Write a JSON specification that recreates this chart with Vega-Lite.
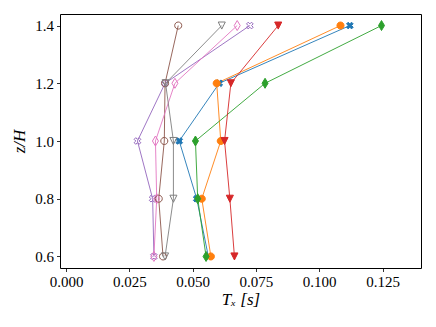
{
  "$schema": "https://vega.github.io/schema/vega-lite/v6.json",
  "autosize": "none",
  "padding": {"left": 60, "top": 14, "right": 15, "bottom": 59},
  "width": 361,
  "height": 254,
  "background": "white",
  "config": {
    "view": {"stroke": "black", "strokeWidth": 1},
    "axis": {
      "grid": false,
      "domain": false,
      "tickColor": "black",
      "tickSize": 3.5,
      "tickWidth": 0.8,
      "labelFont": "Liberation Serif",
      "labelFontSize": 15,
      "labelColor": "black",
      "titleFont": "Liberation Serif",
      "titleFontSize": 17,
      "titleFontWeight": "normal",
      "titleColor": "black",
      "labelPadding": 3
    }
  },
  "data": {
    "values": [
      {"series": "A", "z": 0.6, "T": 0.0562},
      {"series": "A", "z": 0.8, "T": 0.0516},
      {"series": "A", "z": 1.0, "T": 0.0447},
      {"series": "A", "z": 1.2, "T": 0.0605},
      {"series": "A", "z": 1.4, "T": 0.1121},
      {"series": "B", "z": 0.6, "T": 0.0572},
      {"series": "B", "z": 0.8, "T": 0.0536},
      {"series": "B", "z": 1.0, "T": 0.0611},
      {"series": "B", "z": 1.2, "T": 0.0595},
      {"series": "B", "z": 1.4, "T": 0.1084},
      {"series": "C", "z": 0.6, "T": 0.0553},
      {"series": "C", "z": 0.8, "T": 0.0520},
      {"series": "C", "z": 1.0, "T": 0.0511},
      {"series": "C", "z": 1.2, "T": 0.0786},
      {"series": "C", "z": 1.4, "T": 0.1246},
      {"series": "D", "z": 0.6, "T": 0.0665},
      {"series": "D", "z": 0.8, "T": 0.0647},
      {"series": "D", "z": 1.0, "T": 0.0626},
      {"series": "D", "z": 1.2, "T": 0.0651},
      {"series": "D", "z": 1.4, "T": 0.0838},
      {"series": "E", "z": 0.6, "T": 0.0347},
      {"series": "E", "z": 0.8, "T": 0.0342},
      {"series": "E", "z": 1.0, "T": 0.0282},
      {"series": "E", "z": 1.2, "T": 0.0391},
      {"series": "E", "z": 1.4, "T": 0.0726},
      {"series": "F", "z": 0.6, "T": 0.0383},
      {"series": "F", "z": 0.8, "T": 0.0366},
      {"series": "F", "z": 1.0, "T": 0.0388},
      {"series": "F", "z": 1.2, "T": 0.0391},
      {"series": "F", "z": 1.4, "T": 0.0443},
      {"series": "G", "z": 0.6, "T": 0.0347},
      {"series": "G", "z": 0.8, "T": 0.0358},
      {"series": "G", "z": 1.0, "T": 0.0353},
      {"series": "G", "z": 1.2, "T": 0.0430},
      {"series": "G", "z": 1.4, "T": 0.0676},
      {"series": "H", "z": 0.6, "T": 0.0391},
      {"series": "H", "z": 0.8, "T": 0.0424},
      {"series": "H", "z": 1.0, "T": 0.0424},
      {"series": "H", "z": 1.2, "T": 0.0393},
      {"series": "H", "z": 1.4, "T": 0.0615}
    ]
  },
  "encoding": {
    "x": {
      "field": "T", "type": "quantitative",
      "scale": {"domain": [-0.0024, 0.1402], "nice": false, "zero": false},
      "axis": {"values": [0, 0.025, 0.05, 0.075, 0.1, 0.125], "format": ".3f", "title": "Tₓ [s]", "titleFontStyle": "italic", "titlePadding": 2}
    },
    "y": {
      "field": "z", "type": "quantitative",
      "scale": {"domain": [0.56, 1.44], "nice": false, "zero": false},
      "axis": {"values": [0.6, 0.8, 1.0, 1.2, 1.4], "format": ".1f", "title": "z/H", "titleFontStyle": "italic", "titlePadding": 6}
    }
  },
  "layer": [
    {
      "mark": {"type": "line", "strokeWidth": 0.9, "clip": true},
      "encoding": {
        "color": {
          "field": "series", "type": "nominal", "legend": null,
          "scale": {"domain": ["A","B","C","D","E","F","G","H"], "range": ["#1f77b4","#ff7f0e","#2ca02c","#d62728","#9467bd","#8c564b","#e377c2","#7f7f7f"]}
        },
        "detail": {"field": "series"},
        "order": {"field": "z", "type": "quantitative"}
      }
    },
    {
      "mark": {"type": "point", "size": 50, "strokeWidth": 1, "opacity": 1},
      "encoding": {
        "fill": {
          "field": "series", "type": "nominal", "legend": null,
          "scale": {"domain": ["A","B","C","D","E","F","G","H"], "range": ["#1f77b4","#ff7f0e","#2ca02c","#d62728","transparent","transparent","transparent","transparent"]}
        },
        "stroke": {
          "field": "series", "type": "nominal", "legend": null,
          "scale": {"domain": ["A","B","C","D","E","F","G","H"], "range": ["#1f77b4","#ff7f0e","#2ca02c","#d62728","#9467bd","#8c564b","#e377c2","#7f7f7f"]}
        },
        "shape": {
          "field": "series", "type": "nominal", "legend": null,
          "scale": {"domain": ["A","B","C","D","E","F","G","H"], "range": [
            "M0.471,-0.943L0,-0.471L-0.471,-0.943L-0.943,-0.471L-0.471,0L-0.943,0.471L-0.471,0.943L0,0.471L0.471,0.943L0.943,0.471L0.471,0L0.943,-0.471Z",
            "M1,0A1,1,0,1,1,-1,0A1,1,0,1,1,1,0Z",
            "M0,-1.414L0.849,0L0,1.414L-0.849,0Z",
            "M-1,-1L1,-1L0,1Z",
            "M0.471,-0.943L0,-0.471L-0.471,-0.943L-0.943,-0.471L-0.471,0L-0.943,0.471L-0.471,0.943L0,0.471L0.471,0.943L0.943,0.471L0.471,0L0.943,-0.471Z",
            "M1,0A1,1,0,1,1,-1,0A1,1,0,1,1,1,0Z",
            "M0,-1.414L0.849,0L0,1.414L-0.849,0Z",
            "M-1,-1L1,-1L0,1Z"
          ]}
        }
      }
    }
  ]
}
